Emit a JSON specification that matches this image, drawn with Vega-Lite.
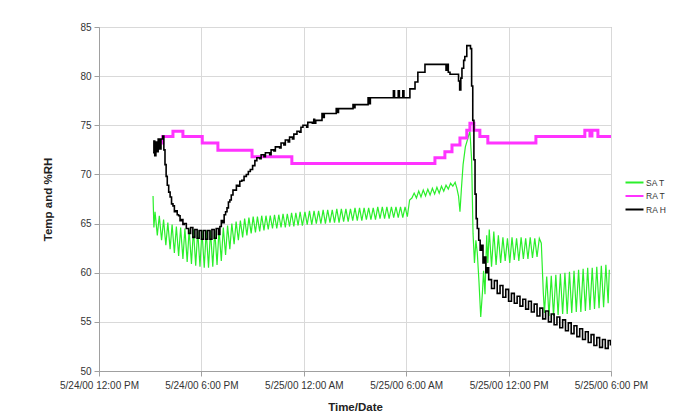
{
"$schema":"https://vega.github.io/schema/vega-lite/v6.json",
"width":512,"height":344,
"autosize":{"type":"none"},
"padding":{"left":99,"top":27,"right":81,"bottom":47},
"background":"#ffffff",
"config":{
 "font":"Liberation Sans",
 "view":{"stroke":"#a0a0a0","strokeWidth":1},
 "axis":{"labelFont":"Liberation Sans","labelFontSize":10,"labelColor":"#333333","titleFont":"Liberation Sans","titleFontSize":11.5,"titleFontWeight":"bold","titleColor":"#222222","gridColor":"#d9d9d9","gridWidth":1,"domainColor":"#a0a0a0","tickColor":"#a0a0a0","tickSize":5}
},
"datasets":{
"sa":[
{"t":"2000-05-24T15:10","v":67.8},{"t":"2000-05-24T15:13","v":64.6},{"t":"2000-05-24T15:17","v":66.2},{"t":"2000-05-24T15:25","v":63.8},{"t":"2000-05-24T15:32","v":65.8},{"t":"2000-05-24T15:40","v":63.3},{"t":"2000-05-24T15:47","v":65.4},{"t":"2000-05-24T15:55","v":62.8},{"t":"2000-05-24T16:02","v":65.1},{"t":"2000-05-24T16:10","v":62.4},{"t":"2000-05-24T16:17","v":64.9},{"t":"2000-05-24T16:25","v":62.0},{"t":"2000-05-24T16:32","v":64.7},{"t":"2000-05-24T16:40","v":61.7},{"t":"2000-05-24T16:47","v":64.6},{"t":"2000-05-24T16:55","v":61.4},{"t":"2000-05-24T17:02","v":64.5},{"t":"2000-05-24T17:10","v":61.1},{"t":"2000-05-24T17:17","v":64.4},{"t":"2000-05-24T17:25","v":60.9},{"t":"2000-05-24T17:32","v":64.4},{"t":"2000-05-24T17:40","v":60.7},{"t":"2000-05-24T17:47","v":64.3},{"t":"2000-05-24T17:55","v":60.6},{"t":"2000-05-24T18:02","v":64.3},{"t":"2000-05-24T18:10","v":60.5},{"t":"2000-05-24T18:17","v":64.3},{"t":"2000-05-24T18:25","v":60.5},{"t":"2000-05-24T18:32","v":64.3},{"t":"2000-05-24T18:40","v":60.6},{"t":"2000-05-24T18:47","v":64.3},{"t":"2000-05-24T18:55","v":60.8},{"t":"2000-05-24T19:02","v":64.4},{"t":"2000-05-24T19:10","v":61.2},{"t":"2000-05-24T19:17","v":64.6},{"t":"2000-05-24T19:25","v":61.8},{"t":"2000-05-24T19:32","v":64.8},{"t":"2000-05-24T19:40","v":62.4},{"t":"2000-05-24T19:47","v":65.0},{"t":"2000-05-24T19:55","v":62.9},{"t":"2000-05-24T20:02","v":65.2},{"t":"2000-05-24T20:10","v":63.3},{"t":"2000-05-24T20:17","v":65.3},{"t":"2000-05-24T20:25","v":63.6},{"t":"2000-05-24T20:32","v":65.5},{"t":"2000-05-24T20:40","v":63.8},{"t":"2000-05-24T20:47","v":65.6},{"t":"2000-05-24T20:55","v":64.0},{"t":"2000-05-24T21:02","v":65.7},{"t":"2000-05-24T21:10","v":64.1},{"t":"2000-05-24T21:17","v":65.7},{"t":"2000-05-24T21:25","v":64.2},{"t":"2000-05-24T21:32","v":65.8},{"t":"2000-05-24T21:40","v":64.3},{"t":"2000-05-24T21:47","v":65.8},{"t":"2000-05-24T21:55","v":64.4},{"t":"2000-05-24T22:02","v":65.8},{"t":"2000-05-24T22:10","v":64.5},{"t":"2000-05-24T22:17","v":65.9},{"t":"2000-05-24T22:25","v":64.5},{"t":"2000-05-24T22:32","v":65.9},{"t":"2000-05-24T22:40","v":64.6},{"t":"2000-05-24T22:47","v":66.0},{"t":"2000-05-24T22:55","v":64.6},{"t":"2000-05-24T23:02","v":66.0},{"t":"2000-05-24T23:10","v":64.7},{"t":"2000-05-24T23:17","v":66.1},{"t":"2000-05-24T23:25","v":64.7},{"t":"2000-05-24T23:32","v":66.1},{"t":"2000-05-24T23:40","v":64.8},{"t":"2000-05-24T23:47","v":66.2},{"t":"2000-05-24T23:55","v":64.8},
{"t":"2000-05-25T00:04","v":66.2},{"t":"2000-05-25T00:12","v":64.9},{"t":"2000-05-25T00:20","v":66.3},{"t":"2000-05-25T00:28","v":64.9},{"t":"2000-05-25T00:36","v":66.3},{"t":"2000-05-25T00:44","v":65.0},{"t":"2000-05-25T00:52","v":66.3},{"t":"2000-05-25T01:00","v":65.0},{"t":"2000-05-25T01:08","v":66.4},{"t":"2000-05-25T01:16","v":65.0},{"t":"2000-05-25T01:24","v":66.4},{"t":"2000-05-25T01:32","v":65.1},{"t":"2000-05-25T01:40","v":66.4},{"t":"2000-05-25T01:48","v":65.1},{"t":"2000-05-25T01:56","v":66.5},{"t":"2000-05-25T02:04","v":65.1},{"t":"2000-05-25T02:12","v":66.5},{"t":"2000-05-25T02:20","v":65.2},{"t":"2000-05-25T02:28","v":66.5},{"t":"2000-05-25T02:36","v":65.2},{"t":"2000-05-25T02:44","v":66.5},{"t":"2000-05-25T02:52","v":65.3},{"t":"2000-05-25T03:00","v":66.6},{"t":"2000-05-25T03:08","v":65.3},{"t":"2000-05-25T03:16","v":66.6},{"t":"2000-05-25T03:24","v":65.3},{"t":"2000-05-25T03:32","v":66.6},{"t":"2000-05-25T03:40","v":65.4},{"t":"2000-05-25T03:48","v":66.6},{"t":"2000-05-25T03:56","v":65.4},{"t":"2000-05-25T04:04","v":66.6},{"t":"2000-05-25T04:12","v":65.4},{"t":"2000-05-25T04:20","v":66.7},{"t":"2000-05-25T04:28","v":65.5},{"t":"2000-05-25T04:36","v":66.7},{"t":"2000-05-25T04:44","v":65.5},{"t":"2000-05-25T04:52","v":66.7},{"t":"2000-05-25T05:00","v":65.5},{"t":"2000-05-25T05:08","v":66.7},{"t":"2000-05-25T05:16","v":65.6},{"t":"2000-05-25T05:24","v":66.7},{"t":"2000-05-25T05:32","v":65.6},{"t":"2000-05-25T05:40","v":66.7},{"t":"2000-05-25T05:48","v":65.6},{"t":"2000-05-25T05:56","v":66.7},{"t":"2000-05-25T06:04","v":65.7},{"t":"2000-05-25T06:12","v":67.4},{"t":"2000-05-25T06:20","v":67.6},{"t":"2000-05-25T06:28","v":68.1},{"t":"2000-05-25T06:36","v":67.6},{"t":"2000-05-25T06:44","v":68.3},{"t":"2000-05-25T06:52","v":67.7},{"t":"2000-05-25T07:00","v":68.4},{"t":"2000-05-25T07:08","v":67.8},{"t":"2000-05-25T07:16","v":68.5},{"t":"2000-05-25T07:24","v":67.9},{"t":"2000-05-25T07:32","v":68.6},{"t":"2000-05-25T07:40","v":68.0},{"t":"2000-05-25T07:48","v":68.7},{"t":"2000-05-25T07:56","v":68.1},{"t":"2000-05-25T08:04","v":68.8},{"t":"2000-05-25T08:12","v":68.3},{"t":"2000-05-25T08:20","v":68.9},{"t":"2000-05-25T08:28","v":68.5},{"t":"2000-05-25T08:36","v":69.1},{"t":"2000-05-25T08:44","v":68.8},{"t":"2000-05-25T08:52","v":69.2},{"t":"2000-05-25T08:58","v":68.6},{"t":"2000-05-25T09:04","v":67.8},{"t":"2000-05-25T09:09","v":66.2},{"t":"2000-05-25T09:14","v":68.5},{"t":"2000-05-25T09:20","v":71.0},{"t":"2000-05-25T09:28","v":72.8},{"t":"2000-05-25T09:36","v":73.6},{"t":"2000-05-25T09:44","v":74.4},{"t":"2000-05-25T09:50","v":71.5},{"t":"2000-05-25T09:55","v":64.0},{"t":"2000-05-25T10:00","v":61.0},{"t":"2000-05-25T10:05","v":63.3},{"t":"2000-05-25T10:10","v":62.0},{"t":"2000-05-25T10:16","v":59.0},{"t":"2000-05-25T10:22","v":55.5},{"t":"2000-05-25T10:28","v":58.0},{"t":"2000-05-25T10:32","v":60.2},{"t":"2000-05-25T10:37","v":57.8},{"t":"2000-05-25T10:43","v":63.8},{"t":"2000-05-25T10:47","v":61.0},{"t":"2000-05-25T10:52","v":64.4},{"t":"2000-05-25T11:00","v":60.6},{"t":"2000-05-25T11:08","v":64.2},{"t":"2000-05-25T11:16","v":60.8},{"t":"2000-05-25T11:24","v":63.8},{"t":"2000-05-25T11:32","v":61.0},{"t":"2000-05-25T11:40","v":63.6},{"t":"2000-05-25T11:48","v":61.2},{"t":"2000-05-25T11:56","v":63.5},{"t":"2000-05-25T12:04","v":61.0},{"t":"2000-05-25T12:12","v":63.6},{"t":"2000-05-25T12:20","v":61.3},{"t":"2000-05-25T12:28","v":63.5},{"t":"2000-05-25T12:36","v":61.2},{"t":"2000-05-25T12:44","v":63.6},{"t":"2000-05-25T12:52","v":61.4},{"t":"2000-05-25T13:00","v":63.5},{"t":"2000-05-25T13:08","v":61.4},{"t":"2000-05-25T13:16","v":63.6},{"t":"2000-05-25T13:24","v":61.5},{"t":"2000-05-25T13:32","v":63.5},{"t":"2000-05-25T13:40","v":61.6},{"t":"2000-05-25T13:48","v":63.5},{"t":"2000-05-25T13:55","v":63.0},{"t":"2000-05-25T14:02","v":58.0},{"t":"2000-05-25T14:06","v":55.9},{"t":"2000-05-25T14:14","v":59.6},{"t":"2000-05-25T14:22","v":55.6},{"t":"2000-05-25T14:30","v":59.7},{"t":"2000-05-25T14:38","v":55.6},{"t":"2000-05-25T14:46","v":59.8},{"t":"2000-05-25T14:54","v":55.7},{"t":"2000-05-25T15:02","v":59.9},{"t":"2000-05-25T15:10","v":55.8},{"t":"2000-05-25T15:18","v":60.0},{"t":"2000-05-25T15:26","v":55.8},{"t":"2000-05-25T15:34","v":60.1},{"t":"2000-05-25T15:42","v":55.9},{"t":"2000-05-25T15:50","v":60.2},{"t":"2000-05-25T15:58","v":56.0},{"t":"2000-05-25T16:06","v":60.3},{"t":"2000-05-25T16:14","v":56.0},{"t":"2000-05-25T16:22","v":60.4},{"t":"2000-05-25T16:30","v":56.1},{"t":"2000-05-25T16:38","v":60.5},{"t":"2000-05-25T16:46","v":56.2},{"t":"2000-05-25T16:54","v":60.5},{"t":"2000-05-25T17:02","v":56.3},{"t":"2000-05-25T17:10","v":60.6},{"t":"2000-05-25T17:18","v":56.4},{"t":"2000-05-25T17:26","v":60.7},{"t":"2000-05-25T17:34","v":56.5},{"t":"2000-05-25T17:42","v":60.8},{"t":"2000-05-25T17:50","v":56.9},{"t":"2000-05-25T17:54","v":60.3}
],
"ra":[
{"t":"2000-05-24T15:40","v":73.2},{"t":"2000-05-24T15:44","v":73.85},{"t":"2000-05-24T16:20","v":74.4},{"t":"2000-05-24T16:55","v":73.85},{"t":"2000-05-24T18:03","v":73.2},{"t":"2000-05-24T18:58","v":72.45},{"t":"2000-05-24T20:58","v":71.8},{"t":"2000-05-24T23:18","v":71.1},{"t":"2000-05-25T07:41","v":71.7},{"t":"2000-05-25T08:16","v":72.3},{"t":"2000-05-25T08:41","v":73.0},{"t":"2000-05-25T09:09","v":73.7},{"t":"2000-05-25T09:33","v":74.5},{"t":"2000-05-25T09:44","v":75.2},{"t":"2000-05-25T09:58","v":74.5},{"t":"2000-05-25T10:19","v":73.85},{"t":"2000-05-25T10:47","v":73.2},{"t":"2000-05-25T13:36","v":73.85},{"t":"2000-05-25T16:28","v":74.5},{"t":"2000-05-25T16:46","v":73.9},{"t":"2000-05-25T16:53","v":74.5},{"t":"2000-05-25T17:14","v":73.85},{"t":"2000-05-25T18:00","v":73.85}
],
"rh":[
{"t":"2000-05-24T15:10","v":72.2},{"t":"2000-05-24T15:13","v":73.4},{"t":"2000-05-24T15:16","v":71.9},{"t":"2000-05-24T15:20","v":73.3},{"t":"2000-05-24T15:24","v":72.3},{"t":"2000-05-24T15:28","v":73.6},{"t":"2000-05-24T15:33","v":72.6},{"t":"2000-05-24T15:38","v":73.6},{"t":"2000-05-24T15:44","v":73.9},{"t":"2000-05-24T15:48","v":72.5},{"t":"2000-05-24T15:52","v":71.0},{"t":"2000-05-24T15:56","v":69.8},{"t":"2000-05-24T16:00","v":68.9},{"t":"2000-05-24T16:05","v":68.2},{"t":"2000-05-24T16:10","v":67.7},{"t":"2000-05-24T16:15","v":67.0},{"t":"2000-05-24T16:20","v":66.8},{"t":"2000-05-24T16:25","v":66.2},{"t":"2000-05-24T16:30","v":66.3},{"t":"2000-05-24T16:35","v":65.9},{"t":"2000-05-24T16:40","v":65.8},{"t":"2000-05-24T16:45","v":65.3},{"t":"2000-05-24T16:50","v":65.4},{"t":"2000-05-24T16:55","v":64.9},{"t":"2000-05-24T17:00","v":65.0},{"t":"2000-05-24T17:07","v":64.5},{"t":"2000-05-24T17:15","v":64.0},{"t":"2000-05-24T17:22","v":64.6},{"t":"2000-05-24T17:30","v":63.6},{"t":"2000-05-24T17:37","v":64.4},{"t":"2000-05-24T17:45","v":63.5},{"t":"2000-05-24T17:52","v":64.3},{"t":"2000-05-24T18:00","v":63.4},{"t":"2000-05-24T18:07","v":64.3},{"t":"2000-05-24T18:15","v":63.4},{"t":"2000-05-24T18:22","v":64.3},{"t":"2000-05-24T18:30","v":63.4},{"t":"2000-05-24T18:37","v":64.4},{"t":"2000-05-24T18:45","v":63.5},{"t":"2000-05-24T18:52","v":64.5},{"t":"2000-05-24T19:00","v":63.9},{"t":"2000-05-24T19:05","v":64.7},{"t":"2000-05-24T19:10","v":65.3},{"t":"2000-05-24T19:15","v":65.1},{"t":"2000-05-24T19:20","v":65.9},{"t":"2000-05-24T19:25","v":66.2},{"t":"2000-05-24T19:30","v":66.6},{"t":"2000-05-24T19:35","v":67.2},{"t":"2000-05-24T19:40","v":67.4},{"t":"2000-05-24T19:45","v":67.9},{"t":"2000-05-24T19:51","v":68.4},{"t":"2000-05-24T19:57","v":68.4},{"t":"2000-05-24T20:03","v":68.9},{"t":"2000-05-24T20:09","v":68.8},{"t":"2000-05-24T20:15","v":69.3},{"t":"2000-05-24T20:22","v":69.4},{"t":"2000-05-24T20:30","v":69.8},{"t":"2000-05-24T20:38","v":70.0},{"t":"2000-05-24T20:45","v":70.3},{"t":"2000-05-24T20:52","v":70.5},{"t":"2000-05-24T21:00","v":70.9},{"t":"2000-05-24T21:08","v":71.4},{"t":"2000-05-24T21:15","v":71.7},{"t":"2000-05-24T21:25","v":71.6},{"t":"2000-05-24T21:30","v":72.0},{"t":"2000-05-24T21:40","v":71.8},{"t":"2000-05-24T21:45","v":72.2},{"t":"2000-05-24T22:00","v":72.0},{"t":"2000-05-24T22:05","v":72.5},{"t":"2000-05-24T22:15","v":72.4},{"t":"2000-05-24T22:20","v":72.8},{"t":"2000-05-24T22:35","v":72.7},{"t":"2000-05-24T22:40","v":73.2},{"t":"2000-05-24T22:50","v":73.0},{"t":"2000-05-24T22:55","v":73.5},{"t":"2000-05-24T23:05","v":73.3},{"t":"2000-05-24T23:10","v":73.8},{"t":"2000-05-24T23:20","v":73.6},{"t":"2000-05-24T23:25","v":74.1},{"t":"2000-05-24T23:36","v":74.4},{"t":"2000-05-24T23:45","v":74.3},{"t":"2000-05-24T23:50","v":74.8},{"t":"2000-05-24T23:57","v":75.0},
{"t":"2000-05-25T00:10","v":74.8},{"t":"2000-05-25T00:14","v":75.3},{"t":"2000-05-25T00:30","v":75.2},{"t":"2000-05-25T00:35","v":75.6},{"t":"2000-05-25T00:38","v":75.2},{"t":"2000-05-25T00:42","v":75.5},{"t":"2000-05-25T01:00","v":75.5},{"t":"2000-05-25T01:04","v":76.2},{"t":"2000-05-25T01:08","v":75.8},{"t":"2000-05-25T01:12","v":76.2},{"t":"2000-05-25T01:50","v":76.2},{"t":"2000-05-25T01:54","v":76.7},{"t":"2000-05-25T01:58","v":76.3},{"t":"2000-05-25T02:02","v":76.7},{"t":"2000-05-25T02:49","v":76.7},{"t":"2000-05-25T02:53","v":77.1},{"t":"2000-05-25T02:57","v":76.8},{"t":"2000-05-25T03:00","v":77.1},{"t":"2000-05-25T03:42","v":77.1},{"t":"2000-05-25T03:46","v":77.8},{"t":"2000-05-25T03:50","v":77.2},{"t":"2000-05-25T03:54","v":77.8},{"t":"2000-05-25T05:03","v":77.8},{"t":"2000-05-25T05:15","v":78.5},{"t":"2000-05-25T05:19","v":77.8},{"t":"2000-05-25T05:32","v":78.5},{"t":"2000-05-25T05:36","v":77.8},{"t":"2000-05-25T05:48","v":78.5},{"t":"2000-05-25T05:52","v":77.8},{"t":"2000-05-25T06:13","v":78.7},{"t":"2000-05-25T06:31","v":79.4},{"t":"2000-05-25T06:41","v":80.4},{"t":"2000-05-25T07:06","v":81.2},{"t":"2000-05-25T08:20","v":80.6},{"t":"2000-05-25T08:24","v":81.2},{"t":"2000-05-25T08:28","v":80.4},{"t":"2000-05-25T08:34","v":80.2},{"t":"2000-05-25T09:04","v":79.5},{"t":"2000-05-25T09:08","v":78.6},{"t":"2000-05-25T09:12","v":79.8},{"t":"2000-05-25T09:16","v":80.8},{"t":"2000-05-25T09:22","v":81.6},{"t":"2000-05-25T09:26","v":82.0},{"t":"2000-05-25T09:33","v":83.1},{"t":"2000-05-25T09:46","v":82.8},{"t":"2000-05-25T09:50","v":79.0},{"t":"2000-05-25T09:54","v":75.5},{"t":"2000-05-25T09:58","v":71.5},{"t":"2000-05-25T10:02","v":68.0},{"t":"2000-05-25T10:06","v":65.5},{"t":"2000-05-25T10:10","v":64.5},{"t":"2000-05-25T10:15","v":63.3},{"t":"2000-05-25T10:20","v":62.3},{"t":"2000-05-25T10:25","v":62.8},{"t":"2000-05-25T10:30","v":61.0},{"t":"2000-05-25T10:35","v":61.6},{"t":"2000-05-25T10:40","v":60.0},{"t":"2000-05-25T10:45","v":60.5},{"t":"2000-05-25T10:50","v":59.3},{"t":"2000-05-25T11:00","v":58.4},{"t":"2000-05-25T11:10","v":59.2},{"t":"2000-05-25T11:20","v":57.9},{"t":"2000-05-25T11:30","v":58.7},{"t":"2000-05-25T11:40","v":57.5},{"t":"2000-05-25T11:50","v":58.3},{"t":"2000-05-25T12:00","v":57.1},{"t":"2000-05-25T12:10","v":57.9},{"t":"2000-05-25T12:20","v":56.9},{"t":"2000-05-25T12:30","v":57.6},{"t":"2000-05-25T12:40","v":56.6},{"t":"2000-05-25T12:50","v":57.3},{"t":"2000-05-25T13:00","v":56.3},{"t":"2000-05-25T13:10","v":57.1},{"t":"2000-05-25T13:20","v":56.0},{"t":"2000-05-25T13:30","v":56.8},{"t":"2000-05-25T13:40","v":55.6},{"t":"2000-05-25T13:50","v":56.4},{"t":"2000-05-25T14:00","v":55.3},{"t":"2000-05-25T14:10","v":56.1},{"t":"2000-05-25T14:20","v":55.0},{"t":"2000-05-25T14:30","v":55.8},{"t":"2000-05-25T14:40","v":54.7},{"t":"2000-05-25T14:50","v":55.5},{"t":"2000-05-25T15:00","v":54.4},{"t":"2000-05-25T15:10","v":55.2},{"t":"2000-05-25T15:20","v":54.1},{"t":"2000-05-25T15:30","v":54.9},{"t":"2000-05-25T15:40","v":53.8},{"t":"2000-05-25T15:50","v":54.6},{"t":"2000-05-25T16:00","v":53.5},{"t":"2000-05-25T16:10","v":54.3},{"t":"2000-05-25T16:20","v":53.2},{"t":"2000-05-25T16:30","v":54.0},{"t":"2000-05-25T16:40","v":52.9},{"t":"2000-05-25T16:50","v":53.7},{"t":"2000-05-25T17:00","v":52.6},{"t":"2000-05-25T17:10","v":53.4},{"t":"2000-05-25T17:20","v":52.4},{"t":"2000-05-25T17:30","v":53.2},{"t":"2000-05-25T17:40","v":52.3},{"t":"2000-05-25T17:50","v":53.1},{"t":"2000-05-25T17:58","v":52.6}
]
},
"encoding":{
 "x":{"field":"t","type":"temporal",
  "scale":{"domain":[{"year":2000,"month":5,"date":24,"hours":12},{"year":2000,"month":5,"date":25,"hours":18}]},
  "axis":{"title":"Time/Date","format":"%-m/%d/%y %-I:%M %p","labelPadding":4,"titlePadding":11,"labelFlush":false,"labelOverlap":false,
   "values":[{"year":2000,"month":5,"date":24,"hours":12},{"year":2000,"month":5,"date":24,"hours":18},{"year":2000,"month":5,"date":25,"hours":0},{"year":2000,"month":5,"date":25,"hours":6},{"year":2000,"month":5,"date":25,"hours":12},{"year":2000,"month":5,"date":25,"hours":18}]}},
 "y":{"field":"v","type":"quantitative","scale":{"domain":[50,85],"nice":false,"zero":false},
  "axis":{"title":"Temp and %RH","values":[50,55,60,65,70,75,80,85],"labelPadding":3,"titlePadding":26}}
},
"layer":[
 {"data":{"name":"sa"},"mark":{"type":"line","strokeWidth":1.2,"clip":true},
  "encoding":{"color":{"datum":"SA T","type":"nominal","scale":{"domain":["SA T","RA T","RA H"],"range":["#2bef2b","#ff33ff","#000000"]},
   "legend":{"title":null,"orient":"none","legendX":530,"legendY":150,"symbolType":"M-2,0H2","symbolSize":81,"symbolStrokeWidth":2,"labelFontSize":8.5,"labelColor":"#333333","labelOffset":6,"rowPadding":3.5,"labelFont":"Liberation Sans"}}}},
 {"data":{"name":"ra"},"mark":{"type":"line","strokeWidth":3,"interpolate":"step-after","clip":true},
  "encoding":{"color":{"datum":"RA T","type":"nominal"}}},
 {"data":{"name":"rh"},"mark":{"type":"line","strokeWidth":1.6,"interpolate":"step-after","clip":true},
  "encoding":{"color":{"datum":"RA H","type":"nominal"}}}
]
}
